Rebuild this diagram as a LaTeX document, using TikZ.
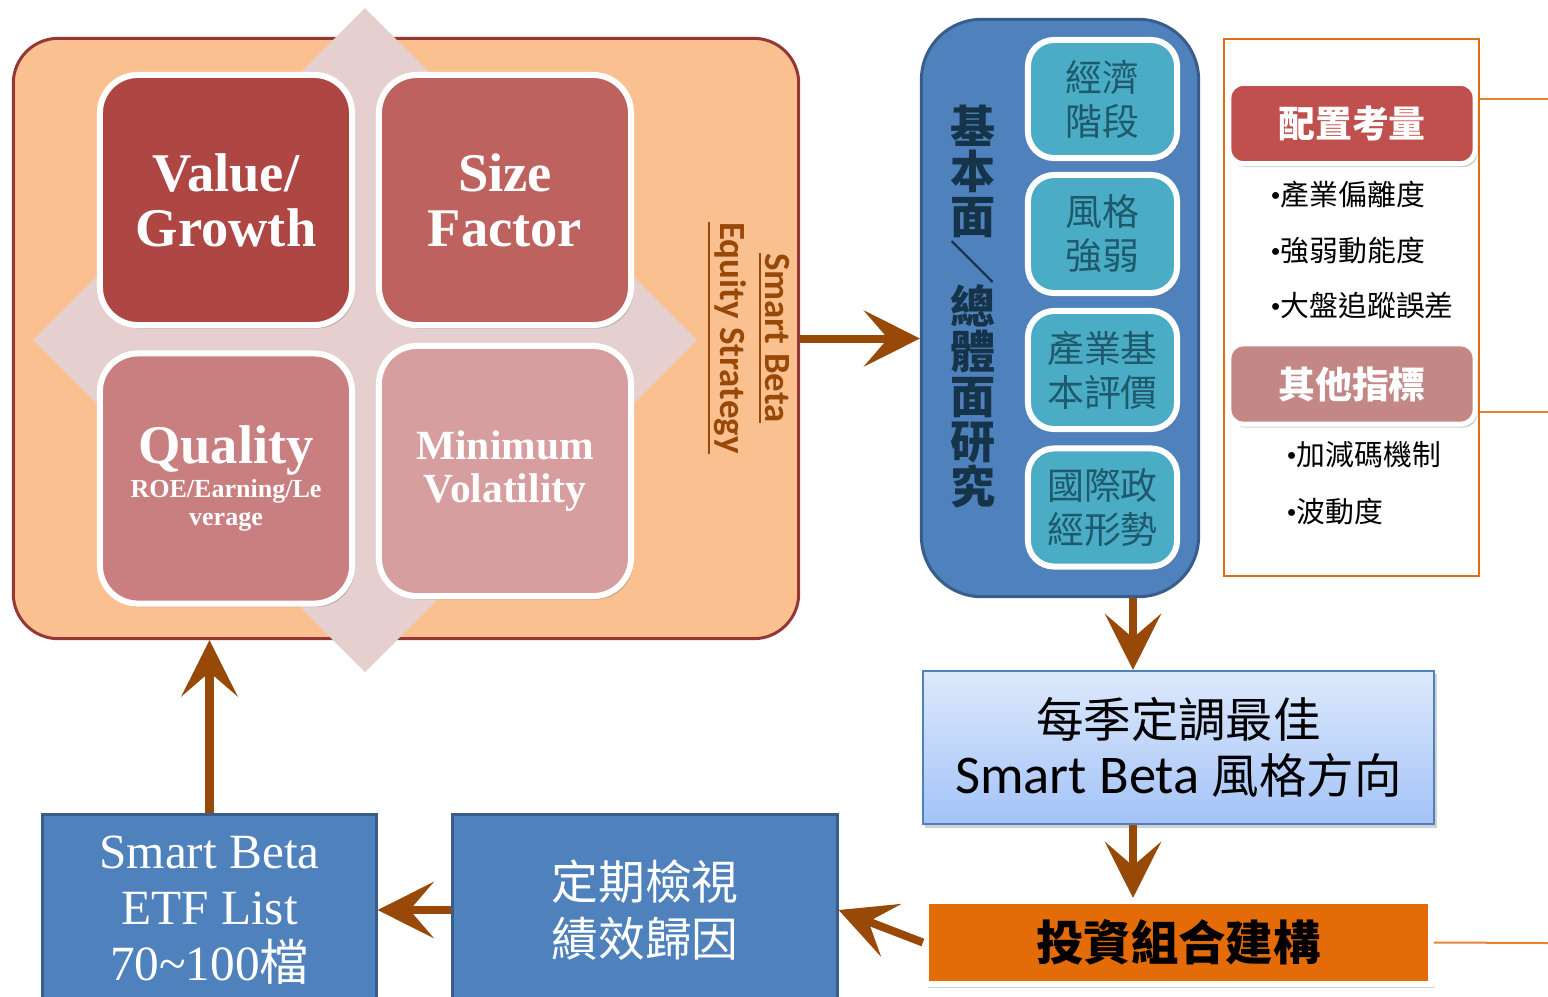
\documentclass[tikz,border=0pt]{standalone}
\usepackage{fontspec}
\usepackage{graphicx}
\setmainfont{Liberation Serif}
\newfontfamily\cjk{Noto Sans CJK TC}
\newfontfamily\calib{Carlito}
\usetikzlibrary{arrows.meta,positioning,shadows}
\definecolor{cFrame}{HTML}{FAC090}
\definecolor{cFrameB}{HTML}{953735}
\definecolor{cDiam}{HTML}{E6CFCF}
\definecolor{cVal}{HTML}{AE4744}
\definecolor{cSize}{HTML}{BE625F}
\definecolor{cQual}{HTML}{C97F7F}
\definecolor{cMinV}{HTML}{D69E9E}
\definecolor{cBrown}{HTML}{984807}
\definecolor{cBlue}{HTML}{4F81BD}
\definecolor{cBlueB}{HTML}{385D8A}
\definecolor{cTeal}{HTML}{4BACC6}
\definecolor{cTealT}{HTML}{1E5A6B}
\definecolor{cNavy}{HTML}{15344A}
\definecolor{cOrange}{HTML}{E46C0A}
\definecolor{cPort}{HTML}{E36C09}
\definecolor{cCfg}{HTML}{C0504D}
\definecolor{cOth}{HTML}{C38886}
\definecolor{cGradT}{HTML}{DDE9FC}
\definecolor{cGradB}{HTML}{A3C3F7}
\tikzset{
  every picture/.style={x=0.01cm, y=-0.01cm},
  sshadow/.style={drop shadow={shadow xshift=0.25mm, shadow yshift=-0.35mm,
                  opacity=0.3, fill=black!60}},
  sfactor/.style={draw=white, line width=0.06cm, rounded corners=0.38cm,
                  minimum width=2.52cm, minimum height=2.5cm, text=white,
                  align=center, inner sep=0pt, sshadow},
  sdriver/.style={draw=white, line width=0.06cm, rounded corners=0.26cm,
                  fill=cTeal, minimum width=1.49cm, minimum height=1.18cm,
                  text=cTealT, align=center, inner sep=0pt,
                  font=\cjk\fontsize{10.5}{12.5}\selectfont, sshadow},
  shead/.style={draw=white, line width=0.05cm, rounded corners=0.14cm,
                minimum width=2.46cm, minimum height=0.8cm, text=white,
                font=\cjk\bfseries\fontsize{10.5}{12}\selectfont, sshadow},
  sbullet/.style={anchor=west, inner sep=0pt,
                  font=\cjk\fontsize{8.2}{10}\selectfont},
  sbluebox/.style={draw=cBlueB, line width=0.03cm, fill=cBlue, text=white,
                   align=center},
  sarrow/.style={draw=cBrown, line width=0.08cm,
                 -{Stealth[length=0.56cm, width=0.56cm, inset=0.24cm]}},
  sline/.style={draw=cOrange!85, line width=0.02cm},
}
\newcommand{\qsmall}{\fontsize{7.4}{8}\selectfont}

\begin{document}
\begin{tikzpicture}
  \useasboundingbox (0,0) rectangle (1548,996);
  % left: smart beta factors
  \node[draw=cFrameB, line width=0.03cm, fill=cFrame, rounded corners=0.45cm,
        minimum width=7.85cm, minimum height=6.0cm] (strat) at (406,338.5) {};
  \fill[cDiam] (365,8) -- (697,340) -- (365,672) -- (33,340) -- cycle;
  \node[sfactor, fill=cVal, font=\bfseries\fontsize{15.5}{15.6}\selectfont]
        (vg) at (226,200) {Value/\\Growth};
  \node[sfactor, fill=cSize, font=\bfseries\fontsize{15.5}{15.6}\selectfont]
        (sz) at (505,200) {Size\\Factor};
  \node[sfactor, fill=cQual, font=\bfseries\fontsize{15.5}{15.6}\selectfont]
        (ql) at (226,478.5)
        {Quality\\[-6pt]\qsmall ROE/Earning/Le\\[-7.6pt]\qsmall verage};
  \node[sfactor, fill=cMinV, font=\bfseries\fontsize{11.8}{12.3}\selectfont]
        (mv) at (505,471) {Minimum\\Volatility};
  \node[rotate=-90, text=cBrown, align=center,
        font=\calib\bfseries\fontsize{10.5}{12.8}\selectfont]
        (sbtitle) at (748,338) {\underline{Smart Beta}\\\underline{Equity Strategy}};

  % middle: research
  \node[draw=cBlueB, line width=0.03cm, fill=cBlue, rounded corners=0.6cm,
        minimum width=2.77cm, minimum height=5.77cm] (research) at (1060,308) {};
  \node[text=cNavy, align=center, inner sep=0pt,
        font=\cjk\bfseries\fontsize{12.8}{12.8}\selectfont] (restitle) at (973,307)
        {基\\本\\面\\\rotatebox[origin=c]{-90}{／}\\總\\體\\面\\研\\究};
  \node[sdriver] (econ)  at (1102.5,99)   {經濟\\階段};
  \node[sdriver] (style) at (1102.5,234)  {風格\\強弱};
  \node[sdriver] (indus) at (1102.5,370)  {產業基\\本評價};
  \node[sdriver] (geo)   at (1102.5,507.5){國際政\\經形勢};

  % right: allocation notes
  \node[draw=cOrange, line width=0.02cm, fill=white,
        minimum width=2.55cm, minimum height=5.37cm] (optbox) at (1351.5,307.5) {};
  \node[shead, fill=cCfg] (cfg) at (1352,123.5) {配置考量};
  \node[sbullet] (b1) at (1270,195) {{\rmfamily •}產業偏離度};
  \node[sbullet] (b2) at (1270,251) {{\rmfamily •}強弱動能度};
  \node[sbullet] (b3) at (1270,306) {{\rmfamily •}大盤追蹤誤差};
  \node[shead, fill=cOth] (oth) at (1352,384) {其他指標};
  \node[sbullet] (b4) at (1286,455) {{\rmfamily •}加減碼機制};
  \node[sbullet] (b5) at (1286,512) {{\rmfamily •}波動度};
  \coordinate (lnA) at (1548,99);
  \coordinate (lnB) at (1548,412);
  \draw[sline] (lnA -| optbox.east) -- (lnA);
  \draw[sline] (lnB -| optbox.east) -- (lnB);

  % bottom row
  \node[sbluebox, line width=0.02cm, draw=cBlue, top color=cGradT, bottom color=cGradB,
        minimum width=5.11cm, minimum height=1.53cm, text=black, sshadow,
        font=\cjk\fontsize{13.5}{16}\selectfont]
        (quart) at (1178.5,747.5)
        {每季定調最佳\\\calib\fontsize{15.5}{16}\selectfont Smart Beta \cjk\fontsize{13.5}{16}\selectfont 風格方向};
  \node[draw=white, line width=0.06cm, fill=cPort, minimum width=5.05cm,
        minimum height=0.83cm, sshadow,
        font=\cjk\bfseries\fontsize{13.5}{16}\selectfont]
        (port) at (1178.5,942.5) {投資組合建構};
  \coordinate (lnC) at (1548,943);
  \draw[sline] (port.east) -- (lnC);
  \node[sbluebox, minimum width=3.84cm, minimum height=1.9cm,
        font=\cjk\fontsize{13.3}{16}\selectfont] (review) at (645,910) {定期檢視\\績效歸因};
  \node[sbluebox, minimum width=3.33cm, minimum height=1.9cm,
        font=\fontsize{14}{16}\selectfont] (etf) at (209.5,910)
        {Smart Beta\\ETF List\\70\textasciitilde100\cjk 檔};

  % flow arrows
  \coordinate (arrx) at (1133,0);
  \draw[sarrow] (strat.east) -- (strat.east -| research.west);
  \draw[sarrow] (research.south -| arrx) -- (quart.north -| arrx);
  \draw[sarrow] (quart.south -| arrx) -- (port.north -| arrx);
  \draw[sarrow] (port.west) -- (review.east);
  \draw[sarrow] (review.west) -- (etf.east);
  \draw[sarrow] (etf.north) -- (etf.north |- strat.south);
\end{tikzpicture}
\end{document}
